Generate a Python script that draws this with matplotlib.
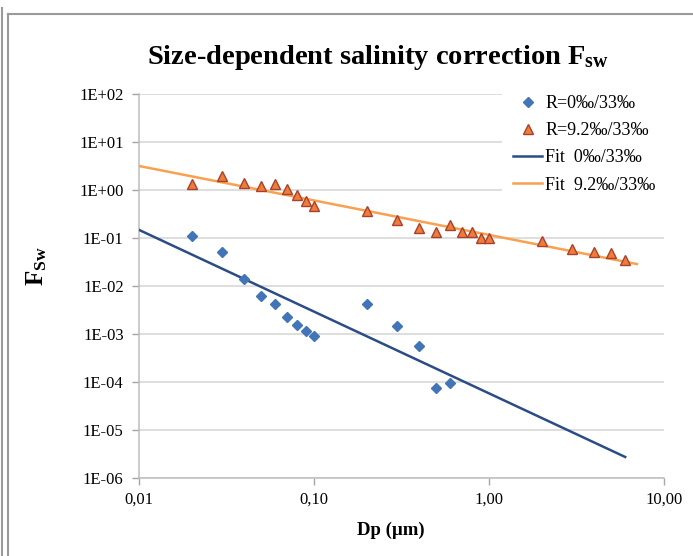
import matplotlib
matplotlib.use("Agg")
import matplotlib.pyplot as plt
from matplotlib.lines import Line2D
import numpy as np

plt.rcParams["font.family"] = ["Liberation Serif", "DejaVu Serif"]
plt.rcParams["mathtext.fontset"] = "custom"
plt.rcParams["mathtext.rm"] = "Liberation Serif"
plt.rcParams["mathtext.bf"] = "Liberation Serif:bold"

# measured points
dp_r0 = [0.02, 0.03, 0.04, 0.05, 0.06, 0.07, 0.08, 0.09, 0.10, 0.20, 0.30, 0.40, 0.50, 0.60]
fsw_r0 = [0.110, 0.051, 0.014, 0.0063, 0.0042, 0.00226, 0.00152, 0.00117, 0.00090,
          0.0042, 0.00147, 0.00057, 7.6e-5, 9.5e-5]

dp_r92 = [0.02, 0.03, 0.04, 0.05, 0.06, 0.07, 0.08, 0.09, 0.10, 0.20,
          0.30, 0.40, 0.50, 0.60, 0.70, 0.80, 0.90, 1.00, 2.00, 3.00, 4.00, 5.00, 6.00]
fsw_r92 = [1.33, 1.93, 1.38, 1.21, 1.32, 1.06, 0.79, 0.59, 0.46, 0.365,
           0.237, 0.164, 0.131, 0.187, 0.131, 0.131, 0.101, 0.101, 0.085, 0.060, 0.050, 0.049, 0.034]

# power-law trendlines  F = a * Dp^b, drawn over [lo, hi]
fit_r0 = dict(a=5.8e-5, b=-1.703, lo=0.01, hi=6.0)
fit_r92 = dict(a=0.116, b=-0.718, lo=0.01, hi=7.0)

xticks = [0.01, 0.1, 1, 10]
xtick_labels = ["0,01", "0,10", "1,00", "10,00"]
yticks = [1e2, 1e1, 1e0, 1e-1, 1e-2, 1e-3, 1e-4, 1e-5, 1e-6]
ytick_labels = ["1E+02", "1E+01", "1E+00", "1E-01", "1E-02", "1E-03", "1E-04", "1E-05", "1E-06"]

c_diamond = "#4275B8"
c_fit0 = "#2C4C86"
c_tri = "#EE7D3A"
c_tri_edge = "#A9402E"
c_fit92 = "#F8A150"

W, H = 693, 556
fig = plt.figure(figsize=(W / 100, H / 100), dpi=100)
ax = fig.add_axes([139 / W, 1 - 478 / H, (664 - 139) / W, (478 - 94) / H])

ax.set_xscale("log")
ax.set_yscale("log")
ax.set_xlim(0.01, 10)
ax.set_ylim(1e-6, 1e2)

for f, col in [(fit_r0, c_fit0), (fit_r92, c_fit92)]:
    xx = np.geomspace(f["lo"], f["hi"], 60)
    ax.plot(xx, f["a"] * xx ** f["b"], color=col, lw=1.8, zorder=3)

ax.plot(dp_r0, fsw_r0, ls="none", marker="D", ms=4.6, color=c_diamond,
        mec=c_diamond, zorder=4)
ax.plot(dp_r92, fsw_r92, ls="none", marker="^", ms=6.5, color=c_tri,
        mec=c_tri_edge, mew=1.0, zorder=4)

ax.set_xticks(xticks)
ax.set_xticklabels(xtick_labels)
ax.set_yticks(yticks)
ax.set_yticklabels(ytick_labels)
ax.minorticks_off()
ax.tick_params(axis="both", labelsize=12, color="#A6A6A6", length=5, width=1)
ax.tick_params(axis="x", pad=5)
ax.tick_params(axis="y", pad=6)
ax.yaxis.grid(True, color="#D4D4D4", lw=1.1)
ax.set_axisbelow(True)
for s in ["top", "right"]:
    ax.spines[s].set_visible(False)
for s in ["left", "bottom"]:
    ax.spines[s].set_color("#BDBDBD")
    ax.spines[s].set_linewidth(1.1)

handles = [
    Line2D([], [], ls="none", marker="D", ms=4.6, color=c_diamond),
    Line2D([], [], ls="none", marker="^", ms=6.5, color=c_tri, mec=c_tri_edge),
    Line2D([], [], color=c_fit0, lw=1.8),
    Line2D([], [], color=c_fit92, lw=1.8),
]
labels = ["R=0‰/33‰", "R=9.2‰/33‰", "Fit  0‰/33‰", "Fit  9.2‰/33‰"]
leg = ax.legend(handles, labels, loc="upper left", bbox_to_anchor=(0.691, 1.025),
                borderaxespad=0, frameon=True, fontsize=13, handlelength=1.65,
                handletextpad=0.15, labelspacing=0.56, borderpad=0.6)
leg.get_frame().set_facecolor("white")
leg.get_frame().set_edgecolor("none")
leg.get_frame().set_alpha(1)

fig.text(378 / W, 1 - 57 / H, r"Size-dependent salinity correction $\mathbf{F_{sw}}$",
         ha="center", va="center", fontsize=20.5, fontweight="bold")
fig.text(37 / W, 1 - 266 / H, r"$\mathbf{F_{Sw}}$", rotation=90,
         ha="center", va="center", fontsize=18)
fig.text(391 / W, 1 - 530 / H, "Dp (µm)", ha="center", va="center",
         fontsize=13.5, fontweight="bold")

# chart frame lines
fig.add_artist(Line2D([2 / W, 2 / W], [0, 1 - 8 / H], color="#9A9A9A", lw=1.5))
fig.add_artist(Line2D([7.5 / W, 7.5 / W], [0, 1 - 13.5 / H], color="#9A9A9A", lw=1.5))
fig.add_artist(Line2D([7.5 / W, 1], [1 - 13.5 / H, 1 - 13.5 / H], color="#9A9A9A", lw=1.5))

fig.savefig("out.png", dpi=100)
